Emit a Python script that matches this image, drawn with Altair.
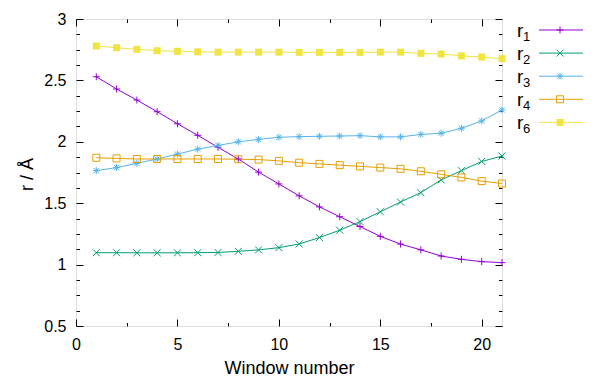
import altair as alt
import pandas as pd

windows = list(range(1, 22))
r1 = [2.53, 2.43, 2.34, 2.245, 2.147, 2.053, 1.955, 1.86, 1.753, 1.657, 1.56,
      1.47, 1.39, 1.31, 1.23, 1.167, 1.12, 1.07, 1.043, 1.024, 1.016]
r2 = [1.097, 1.097, 1.096, 1.096, 1.096, 1.097, 1.099, 1.108, 1.12, 1.138, 1.168,
      1.22, 1.28, 1.35, 1.43, 1.51, 1.586, 1.69, 1.765, 1.84, 1.884]
r3 = [1.765, 1.79, 1.825, 1.86, 1.90, 1.94, 1.97, 2.0, 2.02, 2.037, 2.042,
      2.045, 2.047, 2.05, 2.04, 2.04, 2.06, 2.07, 2.11, 2.17, 2.26]
r4 = [1.87, 1.865, 1.86, 1.86, 1.86, 1.86, 1.86, 1.858, 1.855, 1.845, 1.83,
      1.82, 1.81, 1.80, 1.79, 1.78, 1.76, 1.735, 1.71, 1.68, 1.66]
r6 = [2.78, 2.766, 2.753, 2.742, 2.737, 2.733, 2.73, 2.73, 2.73, 2.73, 2.728,
      2.728, 2.728, 2.728, 2.73, 2.73, 2.72, 2.715, 2.70, 2.69, 2.677]

series_names = ["r1", "r2", "r3", "r4", "r6"]
series_subs = ["1", "2", "3", "4", "6"]
series_colors = ["#9400d3", "#009e73", "#56b4e9", "#e69f00", "#f0e442"]
series_shapes = [
    "M-1,0L1,0M0,-1L0,1",
    "M-1,-1L1,1M-1,1L1,-1",
    "M-1,0L1,0M0,-1L0,1M-0.75,-0.75L0.75,0.75M-0.75,0.75L0.75,-0.75",
    "M-1,-1L1,-1L1,1L-1,1Z",
    "M-1,-1L1,-1L1,1L-1,1Z",
]

x_domain = [0, 21]
y_domain = [0.5, 3]
x_major = [0, 5, 10, 15, 20]
x_minor = [2.5, 7.5, 12.5, 17.5]
y_major = [0.5, 1, 1.5, 2, 2.5, 3]
y_minor = [0.625, 0.75, 0.875, 1.125, 1.25, 1.375, 1.625, 1.75, 1.875,
           2.125, 2.25, 2.375, 2.625, 2.75, 2.875]

rows = []
for name, vals in zip(series_names, [r1, r2, r3, r4, r6]):
    for w, v in zip(windows, vals):
        rows.append({"window": w, "value": v, "series": name})
df = pd.DataFrame(rows)

FONT = "Liberation Sans"
W, H = 426, 307
MAJ, MIN = 7, 3.5
xs = alt.Scale(domain=x_domain, nice=False, zero=False)
ys = alt.Scale(domain=y_domain, nice=False, zero=False)
cs = alt.Scale(domain=series_names, range=series_colors)
ss = alt.Scale(domain=series_names, range=series_shapes)

base = alt.Chart(df)

# gnuplot-style inward ticks on all four borders: grid lines dashed so that
# only a short piece at each end of every grid line is drawn
grid_common = dict(grid=True, gridColor="black", gridWidth=1, gridOpacity=1,
                   domain=False, ticks=False, tickSize=0)

x_axis = alt.Axis(orient="bottom", values=x_major, gridDash=[MAJ, H - 2 * MAJ],
                  labelPadding=10, labelFont=FONT, labelFontSize=16,
                  labelColor="black", labelFlush=False, labelOverlap=False,
                  labelBound=False,
                  title="Window number", titleFont=FONT, titleFontSize=18,
                  titleFontWeight="normal", titleColor="black",
                  titleX=213, titleY=47, titleBaseline="alphabetic",
                  titleAnchor="middle", **grid_common)
y_axis = alt.Axis(orient="left", values=y_major, gridDash=[MAJ, W - 2 * MAJ],
                  labelPadding=10, labelFont=FONT, labelFontSize=16,
                  labelColor="black", labelFlush=False, labelOverlap=False,
                  labelBound=False, format="~g",
                  title="r / Å", titleFont=FONT, titleFontSize=18,
                  titleFontWeight="normal", titleColor="black",
                  titleX=-44, titleY=155, titleBaseline="alphabetic",
                  titleAngle=270, titleAnchor="middle", **grid_common)
x_axis_minor = alt.Axis(orient="bottom", values=x_minor,
                        gridDash=[MIN, H - 2 * MIN], labels=False, title=None,
                        **grid_common)
y_axis_minor = alt.Axis(orient="left", values=y_minor,
                        gridDash=[MIN, W - 2 * MIN], labels=False, title=None,
                        **grid_common)

lines = base.mark_line(strokeWidth=1).encode(
    x=alt.X("window:Q", scale=xs, axis=x_axis),
    y=alt.Y("value:Q", scale=ys, axis=y_axis),
    color=alt.Color("series:N", scale=cs, legend=None),
    detail="series:N",
)

pts_open = base.transform_filter(alt.datum.series != "r6").mark_point(
    filled=False, strokeWidth=1, size=49, opacity=1).encode(
    x=alt.X("window:Q", scale=xs, axis=x_axis_minor),
    y=alt.Y("value:Q", scale=ys, axis=y_axis_minor),
    color=alt.Color("series:N", scale=cs, legend=None),
    shape=alt.Shape("series:N", scale=ss, legend=None),
)

pts_fill = base.transform_filter(alt.datum.series == "r6").mark_point(
    filled=True, size=49, opacity=1, strokeWidth=0).encode(
    x=alt.X("window:Q", scale=xs, axis=None),
    y=alt.Y("value:Q", scale=ys, axis=None),
    color=alt.Color("series:N", scale=cs, legend=None),
    shape=alt.Shape("series:N", scale=ss, legend=None),
)

# legend (gnuplot style: label left, sample right)
leg_layers = []
for i, (name, sub) in enumerate(zip(series_names, series_subs)):
    ly = 11 + 23.1 * i
    one = base.transform_filter(alt.datum.series == name).transform_filter(
        alt.datum.window == 1)
    col = alt.Color("series:N", scale=cs, legend=None)
    leg_layers.append(one.mark_rule(strokeWidth=1).encode(
        x=alt.value(463), x2=alt.value(507), y=alt.value(ly), color=col))
    leg_layers.append(one.mark_point(
        filled=(name == "r6"), strokeWidth=0 if name == "r6" else 1,
        size=49, opacity=1).encode(
        x=alt.value(484), y=alt.value(ly), color=col,
        shape=alt.Shape("series:N", scale=ss, legend=None)))
    leg_layers.append(one.mark_text(
        align="left", baseline="alphabetic", font=FONT, fontSize=19,
        color="black", text="r").encode(x=alt.value(441), y=alt.value(ly + 7)))
    leg_layers.append(one.mark_text(
        align="left", baseline="alphabetic", font=FONT, fontSize=13,
        color="black", text=sub).encode(x=alt.value(447), y=alt.value(ly + 11)))

chart = alt.layer(
    lines, pts_open, pts_fill, *leg_layers,
).resolve_axis(x="independent", y="independent").properties(
    width=W, height=H,
    autosize=alt.AutoSizeParams(type="none"),
    padding={"left": 68, "top": 11, "right": 92, "bottom": 57},
).configure_view(stroke="black", strokeWidth=1).configure(background="white")

chart.save("out.html", embed_options={"renderer": "svg", "actions": False})
